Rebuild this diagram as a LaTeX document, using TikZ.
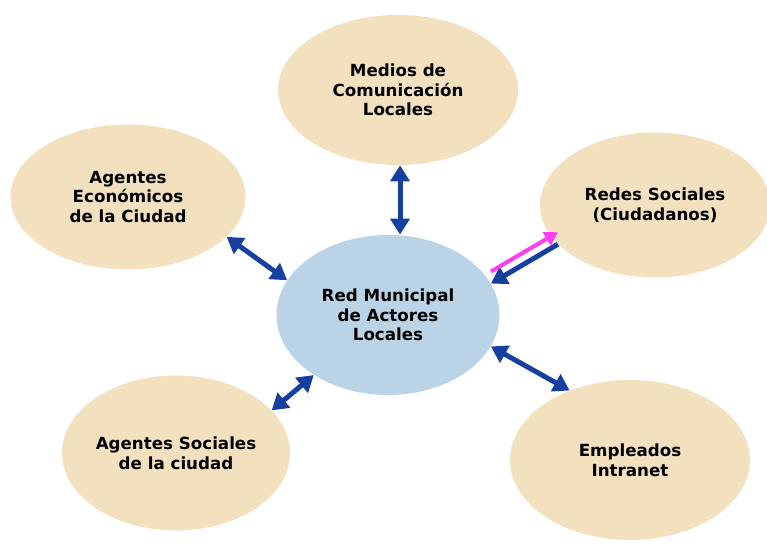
\documentclass[tikz,border=0pt]{standalone}
\usepackage{fontspec}
\setmainfont{DejaVu Sans}
\usetikzlibrary{shapes.geometric,arrows.meta}

\definecolor{arena}{RGB}{242,224,190}
\definecolor{celeste}{RGB}{186,211,230}
\definecolor{azulflecha}{RGB}{22,64,160}
\definecolor{rosa}{RGB}{255,60,240}

\begin{document}
\begin{tikzpicture}[
    actor/.style={ellipse, fill=arena, inner sep=0pt, align=center,
      font=\bfseries\fontsize{9.5}{11.2}\selectfont},
    centro/.style={actor, fill=celeste},
    dbl/.style={{Triangle[length=0.32cm,width=0.38cm]}-{Triangle[length=0.32cm,width=0.38cm]},
      line width=0.1cm, azulflecha},
    sgl/.style={-{Triangle[length=0.32cm,width=0.38cm]}, line width=0.1cm, azulflecha},
    rosada/.style={-{Triangle[length=0.26cm,width=0.3cm]}, line width=0.08cm, rosa}
  ]
  \useasboundingbox (0,0) rectangle (15.34,-10.98);
  %
  \node[actor, minimum width=4.8cm, minimum height=3.0cm] (medios) at (7.96,-1.8) {Medios de\\Comunicación\\Locales};
  \node[actor, minimum width=4.7cm, minimum height=2.9cm] (econ) at (2.56,-3.94) {Agentes\\Económicos\\de la Ciudad};
  \node[actor, minimum width=4.6cm, minimum height=2.9cm] (redes) at (13.1,-4.1) {Redes Sociales\\(Ciudadanos)};
  \node[centro, minimum width=4.46cm, minimum height=3.2cm] (red) at (7.76,-6.3) {Red Municipal\\de Actores\\Locales};
  \node[actor, minimum width=4.56cm, minimum height=3.1cm] (sociales) at (3.52,-9.06) {Agentes Sociales\\de la ciudad};
  \node[actor, minimum width=4.8cm, minimum height=3.2cm] (empleados) at (12.6,-9.2) {Empleados\\Intranet};
  %
  \draw[dbl] ([xshift=0.04cm]medios.south) -- ([xshift=0.04cm]medios.south |- red.north);
  \draw[dbl] (econ.-22) -- (red.161);
  \draw[sgl] (redes.-158) -- (red.17);
  \draw[rosada] ([yshift=0.24cm]red.17) -- ([yshift=0.24cm]redes.-158);
  \draw[dbl] (red.-141) -- (sociales.24);
  \draw[dbl] (red.-17) -- (empleados.131);
\end{tikzpicture}
\end{document}
